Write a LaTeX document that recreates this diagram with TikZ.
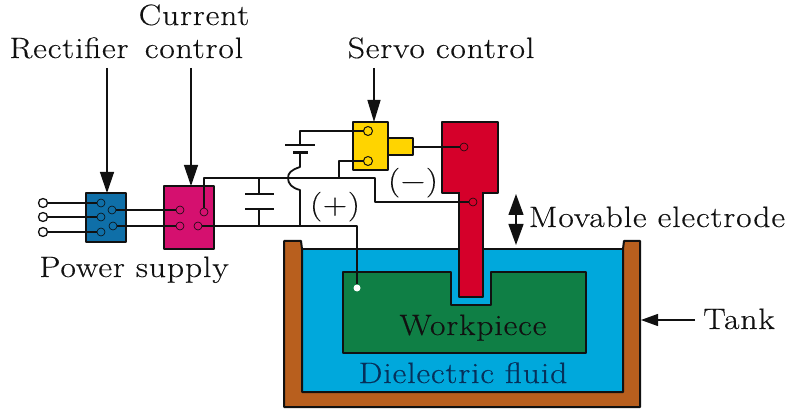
\documentclass[tikz,border=0pt]{standalone}
\usepackage{fontspec}
\setmainfont{Latin Modern Roman}[LetterSpace=3,FakeStretch=1.14,FakeBold=0.35]
\usetikzlibrary{arrows.meta}
\definecolor{cblue}{HTML}{0F6FA8}
\definecolor{cmag}{HTML}{D5106F}
\definecolor{cyel}{HTML}{FFD400}
\definecolor{cred}{HTML}{D5002A}
\definecolor{cfluid}{HTML}{00A8DC}
\definecolor{cgreen}{HTML}{0F7F45}
\definecolor{cbrown}{HTML}{B85F1E}
\definecolor{cink}{HTML}{111111}
\definecolor{cfluidtext}{HTML}{06305A}
\tikzset{
  x=1pt,y=-1pt,
  wire/.style={draw=cink,line width=1.8pt,line join=round},
  part/.style={draw=cink,line width=2pt,rectangle,inner sep=0pt,outer sep=0pt,line join=round},
  term/.style={circle,draw=cink!70!black,line width=.6pt,fill=none,minimum size=8pt,inner sep=0pt,outer sep=0pt},
  yterm/.style={circle,draw=cink,line width=1pt,fill=cyel,minimum size=9pt,inner sep=0pt,outer sep=0pt},
  wterm/.style={circle,draw=cink,line width=1.3pt,fill=white,minimum size=9pt,inner sep=0pt,outer sep=0pt},
  lab/.style={inner sep=0pt,outer sep=0pt,anchor=base,font=\fontsize{29.5}{33}\selectfont,text=cink},
  point/.style={draw=cink,line width=1.3pt,-{Triangle[length=21pt,width=14pt]}},
}
\begin{document}
\begin{tikzpicture}
\useasboundingbox (0,0) rectangle (790,414);
% tank and fluid
\fill[cfluid] (302,249) rectangle (624,392);
\draw[wire,line width=2pt] (302,249) -- (624,249);
\draw[part,fill=cbrown] (284,241) -- (301,241) -- (302,249) -- (302,392) -- (623,392) -- (623,249) -- (624,241) -- (640,241) -- (640,407) -- (284,407) -- cycle;
% workpiece
\draw[part,fill=cgreen] (343,272) -- (451,272) -- (451,305) -- (491,305) -- (491,272) -- (586,272) -- (586,353) -- (343,353) -- cycle;
% parts
\node[part,fill=cblue,minimum width=40pt,minimum height=49pt] (rect) at (106,217.5) {};
\node[part,fill=cmag,minimum width=50pt,minimum height=63pt] (curr) at (189,217.5) {};
\node[part,fill=cyel,minimum width=25pt,minimum height=17pt] (nose) at (400.5,147) {};
\node[part,fill=cyel,minimum width=35pt,minimum height=48pt] (servo) at (370.5,146) {};
\node[part,fill=cred,minimum width=24pt,minimum height=104pt] (stem) at (471,245) {};
\node[part,fill=cred,minimum width=56pt,minimum height=71pt] (head) at (470,157.5) {};
\fill[cred] (460,190) rectangle (482,197);
% terminals
\foreach \n/\px/\py in {a/43/203,b/43/217,c/43/232}
  \node[wterm] (in\n) at (\px,\py) {};
\foreach \n/\px/\py in {ra/101/203,rb/101/217,rc/101/232,rd/112/210,re/113/226,ca/180/210,cb/180/226,cc/204/212,cd/198/226,ha/464/147,sa/473/202}
  \node[term] (\n) at (\px,\py) {};
\node[yterm] (ya) at (368,131) {};
\node[yterm] (yb) at (368,161) {};
\node[circle,fill=white,draw=none,minimum size=7pt,inner sep=0pt] (wp) at (357,288) {};
% wires
\draw[wire] (ina) -- (ra);
\draw[wire] (inb) -- (rb);
\draw[wire] (inc) -- (rc);
\draw[wire] (rd) -- (ca);
\draw[wire] (re) -- (cb);
\coordinate (capT) at (259,178);
\coordinate (capB) at (259,226);
\coordinate (pl1a) at (245,194);
\coordinate (pl1b) at (274,194);
\coordinate (pl2a) at (245,209);
\coordinate (pl2b) at (274,209);
\draw[wire] (cc) -- (204,178) -- (375,178) -- (375,202) -- (sa);
\draw[wire] (cd) -- (357,226) -- (wp);
\draw[wire] (capT) -- (259,194);
\draw[wire] (capB) -- (259,209);
\draw[wire,line width=2.4pt] (pl1a) -- (pl1b);
\draw[wire,line width=2.4pt] (pl2a) -- (pl2b);
\coordinate (batA) at (285,145);
\coordinate (batB) at (315,145);
\coordinate (batC) at (293,153);
\coordinate (batD) at (308,153);
\draw[wire] (ya) -- (300,131) -- (300,145);
\draw[wire,line width=2.4pt] (batA) -- (batB);
\draw[wire,line width=3pt] (batC) -- (batD);
\draw[wire] (300,153) -- (300,167) .. controls (291,170) and (288,173) .. (288,178) .. controls (288,184) and (292,188) .. (300,190) -- (300,226);
\draw[wire] (yb) -- (339,161) -- (339,178);
\draw[wire] (nose.east) -- (ha);
% labels
\node[lab] (lrect) at (69,58) {Rectifier};
\node[lab] (lcur) at (194,25) {Current};
\node[lab] (lcon) at (194,58) {control};
\node[lab] (lsrv) at (441,58) {Servo control};
\node[lab] (lps) at (134,277) {Power supply};
\node[lab] (lmov) at (657,227) {Movable electrode};
\node[lab] (ltank) at (739,329) {Tank};
\node[lab] (lplus) at (335,214) {(+)};
\node[lab] (lminus) at (413,190) {(−)};
\node[lab] (lwork) at (473,335) {Workpiece};
\node[lab,text=cfluidtext] (lfluid) at (463,383) {Dielectric fluid};
% pointers
\draw[point] (107,68) -- (rect.north -| 107,0);
\draw[point] (191,68) -- (curr.north -| 191,0);
\draw[point,-{Triangle[length=22pt,width=13pt]}] (374,68) -- (servo.north -| 374,0);
\coordinate (tankT) at (695,320);
\draw[point,-{Triangle[length=17pt,width=12pt]}] (tankT) -- (641,320);
\coordinate (mvU) at (516,194);
\coordinate (mvD) at (516,245);
\draw[line width=1.3pt,draw=cink,{Triangle[length=21pt,width=15pt]}-{Triangle[length=21pt,width=15pt]}] (mvU) -- (mvD);
\end{tikzpicture}
\end{document}
